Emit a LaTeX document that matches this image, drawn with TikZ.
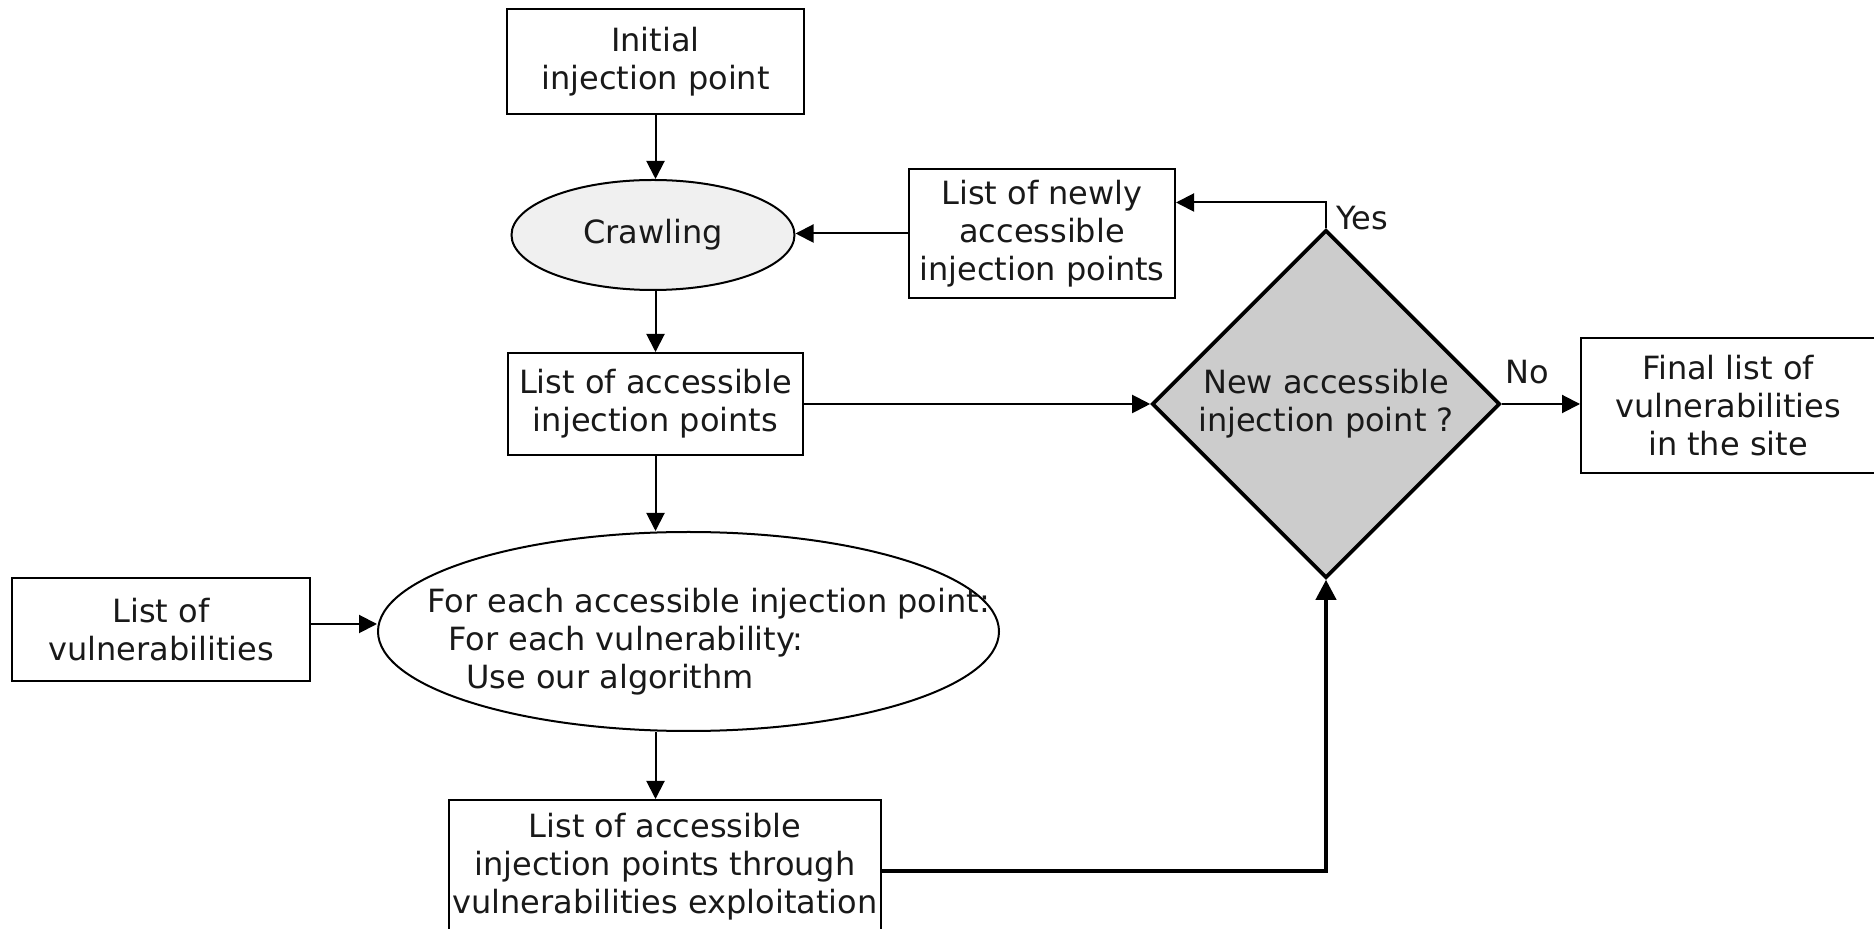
\documentclass[tikz,border=0pt]{standalone}
\usepackage{fontspec}
\setmainfont{DejaVu Sans}
\usetikzlibrary{shapes.geometric,arrows.meta,calc}
\begin{document}
\begin{tikzpicture}[x=0.5pt,y=-0.5pt,
  every node/.style={font=\fontsize{16}{19}\selectfont, inner sep=0pt, align=center, text=black!90},
  boxnode/.style={draw, line width=1pt, rectangle},
  ellnode/.style={draw, line width=1pt, ellipse},
  decnode/.style={draw, line width=1.8pt, diamond, fill=black!20},
  arr/.style={-{Triangle[length=9pt,width=9pt]}, line width=1pt},
  thickarr/.style={-{Triangle[length=10pt,width=10pt]}, line width=2pt},
]
\useasboundingbox (0,0) rectangle (1874,929);

\node[boxnode, minimum width=148.5pt, minimum height=52.5pt] (init) at (655.5,62) {Initial\\injection point};
\node[ellnode, fill=black!6, minimum width=141.5pt, minimum height=55pt] (crawl) at (653,235) {Crawling};
\node[boxnode, minimum width=133pt, minimum height=64.5pt] (new) at (1042,233.5) {List of newly\\accessible\\injection points};
\node[boxnode, minimum width=147.5pt, minimum height=51pt] (acc) at (655.5,404) {List of accessible\\injection points};
\node[decnode, minimum width=174pt, minimum height=174pt] (dia) at (1326,404) {New accessible\\injection point ?};
\node[boxnode, minimum width=147pt, minimum height=67.5pt] (final) at (1728,405.5) {Final list of\\vulnerabilities\\in the site};
\node[boxnode, minimum width=149pt, minimum height=51.5pt] (vuln) at (161,629.5) {List of\\vulnerabilities};
\node[ellnode, minimum width=310.5pt, minimum height=99.5pt] (big) at (688.5,631.5) {};
\node[align=left, anchor=west] (bigtext) at (427,642) {For each accessible injection point:\\\hspace*{10.5pt}For each vulnerability:\\\hspace*{19.5pt}Use our algorithm};
\node[boxnode, minimum width=216pt, minimum height=67pt] (expl) at (665,867) {List of accessible\\injection points through\\vulnerabilities exploitation};

\node[anchor=west] (yes) at (1336,218) {Yes};
\node (no) at (1527,372) {No};

\draw[arr] (init.south) -- (init.south |- crawl.north);
\draw[arr] (acc.north |- crawl.south) -- (acc.north);
\draw[arr] (new.west) -- (new.west -| crawl.east);
\draw[arr] (acc.east) -- (acc.east -| dia.west);
\draw[arr] (dia.north) |- ([yshift=15.5pt]new.east);
\draw[arr] (dia.east) -- (dia.east -| final.west);
\draw[arr] (acc.south) -- (acc.south |- big.north);
\draw[arr] (acc.south |- big.south) -- (acc.south |- expl.north);
\draw[arr] (vuln.east |- 0,624) -- (big.west |- 0,624);
\draw[thickarr] (expl.east |- 0,871) -| (dia.south);
\end{tikzpicture}
\end{document}
